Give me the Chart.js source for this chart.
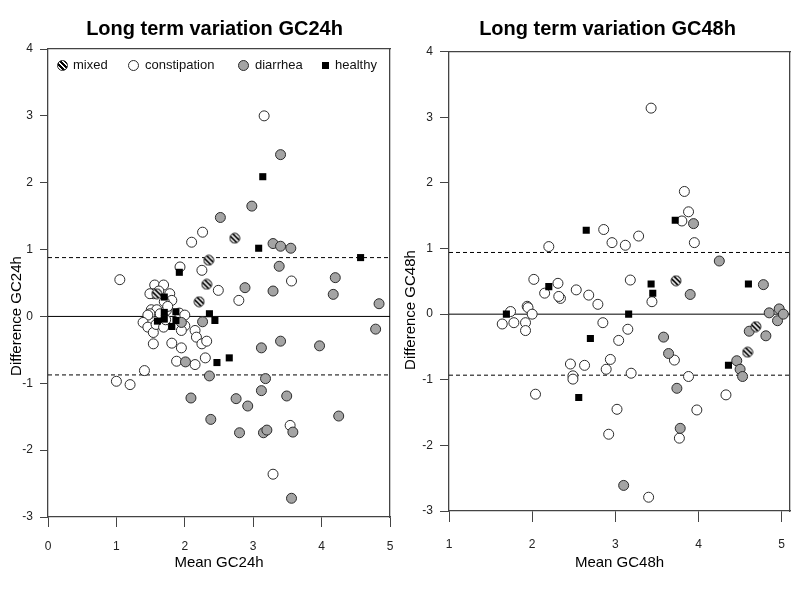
<!DOCTYPE html>
<html><head><meta charset="utf-8">
<script src="https://cdn.jsdelivr.net/npm/chart.js@4.4.1/dist/chart.umd.min.js"></script>
<style>
html,body{margin:0;padding:0;background:#fff;}
body{width:798px;height:599px;overflow:hidden;position:relative;font-family:Arial,"Liberation Sans",sans-serif;}
#w1{position:absolute;left:0;top:0;width:429px;height:599px;}
#w2{position:absolute;left:400px;top:0;width:415px;height:599px;}
.lgt{position:absolute;font-size:13px;line-height:15px;color:#111;white-space:nowrap;}
.lgi{position:absolute;box-sizing:border-box;}
</style></head>
<body>
<div id="w1"><canvas id="c1" width="429" height="599"></canvas></div>
<div id="w2"><canvas id="c2" width="415" height="599"></canvas></div>
<div id="legend"></div>
<script>
// ---------- data ----------
const seriesNames = ['mixed', 'constipation', 'diarrhea', 'healthy'];
const xTicks24 = [0, 1, 2, 3, 4, 5];
const xTicks48 = [1, 2, 3, 4, 5];
const yTicks = [-3, -2, -1, 0, 1, 2, 3, 4];
const meanDiff = 0;

// GC24h: [mean, difference]
const mixed24 = [[2.73,1.17],[2.35,0.84],[2.32,0.48],[2.21,0.22],[1.59,0.34]];
const constipation24 = [
 [3.16,3.00],[2.10,1.11],[2.26,1.26],[1.93,0.74],[2.25,0.69],[1.05,0.55],[2.49,0.39],[2.79,0.24],[3.56,0.53],
 [1.56,0.47],[1.69,0.47],[1.54,0.34],[1.49,0.34],[1.78,0.34],[1.81,0.24],[1.70,0.22],[1.62,0.38],
 [1.51,0.10],[1.59,0.10],[1.49,0.04],[1.46,0.02],[1.73,0.09],[1.64,0.04],[1.75,0.15],
 [1.39,-0.09],[1.46,-0.16],[1.54,-0.24],[1.58,-0.12],[1.69,-0.16],[1.72,-0.05],[1.92,0.05],
 [2.00,0.02],[2.00,-0.14],[1.95,-0.21],[2.15,-0.21],[2.17,-0.31],[2.25,-0.41],[2.32,-0.37],
 [1.81,-0.40],[1.95,-0.47],[1.54,-0.41],[1.88,-0.67],[2.15,-0.72],[2.30,-0.62],
 [1.00,-0.97],[1.20,-1.02],[1.41,-0.81],[3.54,-1.63],[3.29,-2.36]
];
const diarrhea24 = [[3.40,2.42],[2.98,1.65],[2.52,1.48],[3.29,1.09],[3.40,1.05],[3.55,1.02],[3.38,0.75],[2.88,0.43],
 [3.29,0.38],[4.20,0.58],[4.17,0.33],[4.84,0.19],[4.79,-0.19],[3.97,-0.44],[3.40,-0.37],[3.12,-0.47],[2.26,-0.08],
 [1.95,-0.09],[2.01,-0.68],[2.36,-0.89],[3.18,-0.93],[3.12,-1.11],[2.09,-1.22],[2.75,-1.23],[2.92,-1.34],[3.49,-1.19],
 [4.25,-1.49],[2.38,-1.54],[2.80,-1.74],[3.15,-1.74],[3.20,-1.70],[3.58,-1.73],[3.56,-2.72]];
const healthy24 = [[3.14,2.09],[3.08,1.02],[4.57,0.88],[1.92,0.66],[1.70,0.29],[1.70,0.06],[1.70,-0.04],[1.60,-0.07],
 [1.81,-0.15],[1.87,0.07],[1.87,-0.06],[2.36,0.04],[2.44,-0.06],[2.47,-0.69],[2.65,-0.62]];
const limits24 = [0.88, -0.875];

// GC48h: [mean, difference]
const mixed48 = [[3.73,0.51],[4.69,-0.19],[4.59,-0.58]];
const constipation48 = [[3.43,3.14],[3.83,1.87],[3.88,1.56],[3.80,1.42],[3.95,1.09],[2.86,1.29],[2.96,1.09],[3.12,1.05],
 [3.28,1.19],[2.20,1.03],[3.18,0.52],[2.02,0.53],[2.15,0.32],[2.31,0.47],[2.34,0.24],[2.32,0.27],[2.53,0.37],[2.68,0.29],
 [2.79,0.15],[3.44,0.19],[1.94,0.12],[1.95,0.10],[2.00,0.00],[1.74,0.04],[1.64,-0.15],[1.78,-0.13],[1.92,-0.13],[1.92,-0.25],
 [2.04,-1.22],[2.46,-0.76],[2.49,-0.94],[2.49,-0.99],[2.63,-0.78],[2.85,-0.13],[2.89,-0.84],[2.94,-0.69],[3.04,-0.40],
 [3.15,-0.23],[3.19,-0.90],[3.02,-1.45],[2.92,-1.83],[3.40,-2.79],[3.71,-0.70],[3.77,-1.89],[3.88,-0.95],[3.98,-1.46],[4.33,-1.23]];
const diarrhea48 = [[3.94,1.38],[3.90,0.30],[4.25,0.81],[4.78,0.45],[3.58,-0.35],[3.64,-0.60],[3.74,-1.13],[3.78,-1.74],
 [3.10,-2.61],[4.46,-0.71],[4.50,-0.84],[4.53,-0.95],[4.61,-0.26],[4.81,-0.33],[4.85,0.02],[4.97,0.08],[4.95,-0.10],[5.02,0.00]];
const healthy48 = [[2.65,1.28],[3.72,1.43],[2.20,0.42],[3.43,0.46],[3.45,0.32],[4.60,0.46],[1.69,0.00],[3.16,0.00],
 [2.70,-0.37],[2.56,-1.27],[4.36,-0.78]];
const limits48 = [0.94, -0.93];

// ---------- styling ----------
const FONT = 'Arial, "Liberation Sans", sans-serif';
const NARROW = '"Liberation Sans Narrow", "Arial Narrow", Arial, sans-serif';
const AXIS = '#444';
const GRAY = '#a4a4a4';
const EDGE = '#2b2b2b';

function hatchImage(r) {
  const s = 2 * r + 2, c = document.createElement('canvas');
  c.width = c.height = s;
  const g = c.getContext('2d');
  g.beginPath(); g.arc(s / 2, s / 2, r, 0, Math.PI * 2); g.fillStyle = '#fff'; g.fill();
  g.save(); g.clip(); g.strokeStyle = '#000'; g.lineWidth = 1.8;
  for (let k = -s; k < 2 * s; k += 4.8) { g.beginPath(); g.moveTo(k, 0); g.lineTo(k + s, s); g.stroke(); }
  g.restore();
  g.beginPath(); g.arc(s / 2, s / 2, r, 0, Math.PI * 2); g.strokeStyle = EDGE; g.lineWidth = 1; g.stroke();
  return c;
}
const hatch = hatchImage(5);

const sideTitle = {
  id: 'sideTitle',
  afterDraw(chart, args, o) {
    const ctx = chart.ctx; ctx.save();
    ctx.translate(o.x, o.y); ctx.rotate(-Math.PI / 2);
    ctx.font = o.txtFont; ctx.fillStyle = o.color; ctx.textAlign = 'center'; ctx.textBaseline = 'middle';
    ctx.fillText(o.text, 0, 0); ctx.restore();
  }
};

function build(id, L) {
  const pts = a => a.map(p => ({x: p[0], y: p[1]}));
  const hline = v => [{x: L.xRange[0], y: v}, {x: L.xRange[1], y: v}];
  const refLine = (v, dash) => ({label: 'ref', data: hline(v), showLine: true, pointRadius: 0, borderColor: '#000',
    borderWidth: 1, borderDash: dash, order: 5});
  const border = {display: true, color: AXIS, width: 1.3};
  return new Chart(document.getElementById(id), {
    type: 'scatter',
    data: {datasets: [
      {label: seriesNames[0], data: pts(L.mixed), pointStyle: hatch, pointRadius: 5, order: 1},
      {label: seriesNames[1], data: pts(L.constipation), pointStyle: 'circle', pointRadius: 5,
        backgroundColor: '#fff', borderColor: EDGE, borderWidth: 1, order: 3},
      {label: seriesNames[2], data: pts(L.diarrhea), pointStyle: 'circle', pointRadius: 5,
        backgroundColor: GRAY, borderColor: EDGE, borderWidth: 1, order: 2},
      {label: seriesNames[3], data: pts(L.healthy), pointStyle: 'rect', pointRadius: 5,
        backgroundColor: '#000', borderColor: '#000', borderWidth: 0, order: 0},
      refLine(meanDiff, []),
      refLine(L.limits[0], [4, 3]),
      refLine(L.limits[1], [4, 3])
    ]},
    plugins: [sideTitle],
    options: {
      responsive: false, animation: false, events: [],
      layout: {padding: 0},
      plugins: {
        legend: {display: false},
        tooltip: {enabled: false},
        title: {display: true, text: L.title, color: '#000',
          font: {family: FONT, size: 20, weight: 'bold'}, padding: {top: 17.5, bottom: L.titleGap}},
        sideTitle: {text: L.yTitle, x: L.yTitleX, y: L.yTitleY, txtFont: '15px ' + FONT, color: '#000'}
      },
      scales: {
        x: {type: 'linear', position: 'bottom', min: L.xRange[0], max: L.xRange[1],
          afterBuildTicks: s => { s.ticks = L.xTicks.map(v => ({value: v})); },
          afterFit: s => { s.height = L.bottomH; },
          ticks: {font: {family: NARROW, size: 12}, color: '#222', padding: L.xPad, maxRotation: 0, autoSkip: false},
          grid: {display: true, drawOnChartArea: false, drawTicks: true, tickLength: L.xTickLen, color: AXIS, lineWidth: 1},
          border: border,
          title: {display: true, text: L.xTitle, color: '#000', font: {family: FONT, size: 15}, padding: {top: 0, bottom: 27}}},
        y: {type: 'linear', position: 'left', min: -3, max: 4,
          afterBuildTicks: s => { s.ticks = yTicks.map(v => ({value: v})); },
          afterFit: s => { s.width = L.leftW; },
          ticks: {font: {family: NARROW, size: 12}, color: '#222', padding: 7},
          grid: {display: true, drawOnChartArea: false, drawTicks: true, tickLength: L.yTickLen, color: AXIS, lineWidth: 1},
          border: border},
        xTop: {type: 'linear', position: 'top', min: L.xRange[0], max: L.xRange[1],
          ticks: {display: false}, grid: {display: true, drawOnChartArea: false, drawTicks: false},
          border: border, afterFit: s => { s.height = 0; }},
        yRight: {type: 'linear', position: 'right', min: -3, max: 4,
          ticks: {display: false}, grid: {display: true, drawOnChartArea: false, drawTicks: false},
          border: border, afterFit: s => { s.width = L.rightW; }}
      }
    }
  });
}

build('c1', {
  title: 'Long term variation GC24h', xTitle: 'Mean GC24h', yTitle: 'Difference GC24h',
  mixed: mixed24, constipation: constipation24, diarrhea: diarrhea24, healthy: healthy24, limits: limits24,
  xRange: [0, 5], xTicks: xTicks24,
  titleGap: 7.5, bottomH: 82, leftW: 48, rightW: 39, xPad: 12, xTickLen: 10, yTickLen: 8,
  yTitleX: 17, yTitleY: 316
});
build('c2', {
  title: 'Long term variation GC48h', xTitle: 'Mean GC48h', yTitle: 'Difference GC48h',
  mixed: mixed48, constipation: constipation48, diarrhea: diarrhea48, healthy: healthy48, limits: limits48,
  xRange: [1, 5.1], xTicks: xTicks48,
  titleGap: 10.2, bottomH: 88, leftW: 49, rightW: 25, xPad: 15, xTickLen: 11, yTickLen: 9,
  yTitleX: 11, yTitleY: 310
});

// ---------- legend (inside left plot frame) ----------
const legendIconX = [62, 133, 243, 325];
const legendTextX = [73, 145, 255, 335];
const legendY = 65;
const lg = document.getElementById('legend');
seriesNames.forEach((name, i) => {
  const ic = document.createElement('div');
  ic.className = 'lgi';
  if (i === 3) {
    Object.assign(ic.style, {left: (legendIconX[i] - 3.5) + 'px', top: (legendY - 3.5) + 'px', width: '7px', height: '7px', background: '#000'});
  } else {
    Object.assign(ic.style, {left: (legendIconX[i] - 5.5) + 'px', top: (legendY - 5.5) + 'px', width: '11px', height: '11px',
      borderRadius: '50%', border: '1px solid ' + EDGE,
      background: i === 0 ? 'repeating-linear-gradient(45deg, #000 0 1.7px, #fff 1.7px 3.4px)' : (i === 1 ? '#fff' : GRAY)});
  }
  lg.appendChild(ic);
  const t = document.createElement('span');
  t.className = 'lgt';
  t.textContent = name;
  t.style.left = legendTextX[i] + 'px';
  t.style.top = (legendY - 8) + 'px';
  lg.appendChild(t);
});
</script>
</body></html>
